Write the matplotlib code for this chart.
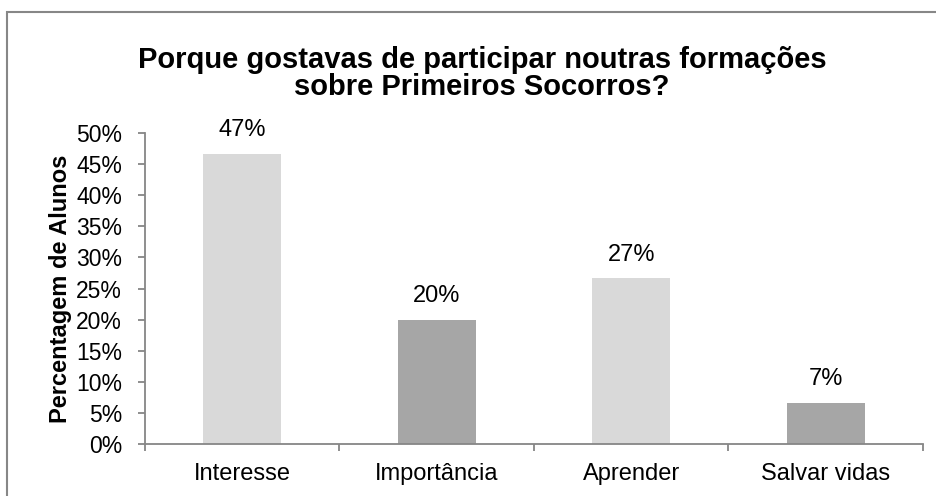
import matplotlib
matplotlib.use("Agg")
import matplotlib.pyplot as plt
from matplotlib.patches import Rectangle
from matplotlib.ticker import FixedLocator, PercentFormatter

plt.rcParams['font.family'] = ['Liberation Sans', 'DejaVu Sans']

categories = ["Interesse", "Importância", "Aprender", "Salvar vidas"]
shares = [7 / 15, 3 / 15, 4 / 15, 1 / 15]
bar_colors = ["#D9D9D9", "#A6A6A6", "#D9D9D9", "#A6A6A6"]
y_ticks = [0, 0.05, 0.10, 0.15, 0.20, 0.25, 0.30, 0.35, 0.40, 0.45, 0.50]

title_lines = ["Porque gostavas de participar noutras formações",
               "sobre Primeiros Socorros?"]
y_title = "Percentagem de Alunos"

W, H = 937, 496
fig = plt.figure(figsize=(W / 100, H / 100), dpi=100)

# chart frame (left and top edges visible)
frame = Rectangle((6.7 / W, -0.1), 1.2, 1.1 - 12 / H, transform=fig.transFigure,
                  fill=False, edgecolor="#878787", linewidth=1.5, zorder=0)
fig.add_artist(frame)

ax = fig.add_axes([145 / W, 1 - 444 / H, (923 - 145) / W, (444 - 133) / H])
x = range(len(categories))
bars = ax.bar(x, shares, width=0.40, color=bar_colors, zorder=2)

for rect, v in zip(bars, shares):
    ax.annotate(f"{v * 100:.0f}%", (rect.get_x() + rect.get_width() / 2, v),
                xytext=(0, 9), textcoords="offset points",
                ha="center", va="bottom", fontsize=17, color="black")

ax.set_xlim(-0.5, len(categories) - 0.5)
ax.set_ylim(0, 0.5)
ax.set_yticks(y_ticks)
ax.yaxis.set_major_formatter(PercentFormatter(1.0, decimals=0))
ax.set_xticks(list(x))
ax.set_xticklabels(categories)
ax.xaxis.set_minor_locator(FixedLocator([i - 0.5 for i in range(len(categories) + 1)]))

spine_c = "#868686"
for s in ["top", "right"]:
    ax.spines[s].set_visible(False)
for s in ["left", "bottom"]:
    ax.spines[s].set_color(spine_c)
    ax.spines[s].set_linewidth(1.3)

ax.tick_params(axis="y", which="major", length=5, width=1.3, color=spine_c,
               labelsize=16.5, pad=11.5, labelcolor="black")
ax.tick_params(axis="x", which="major", length=0, labelsize=17, pad=14,
               labelcolor="black")
ax.tick_params(axis="x", which="minor", length=5, width=1.3, color=spine_c)

ax.set_ylabel(y_title, fontsize=17, fontweight="bold", labelpad=3)

baselines = [68, 95]
for line, yb in zip(title_lines, baselines):
    fig.text(482 / W, 1 - yb / H, line, ha="center", va="baseline",
             fontsize=21, fontweight="bold")

fig.savefig("out.png", dpi=100)
